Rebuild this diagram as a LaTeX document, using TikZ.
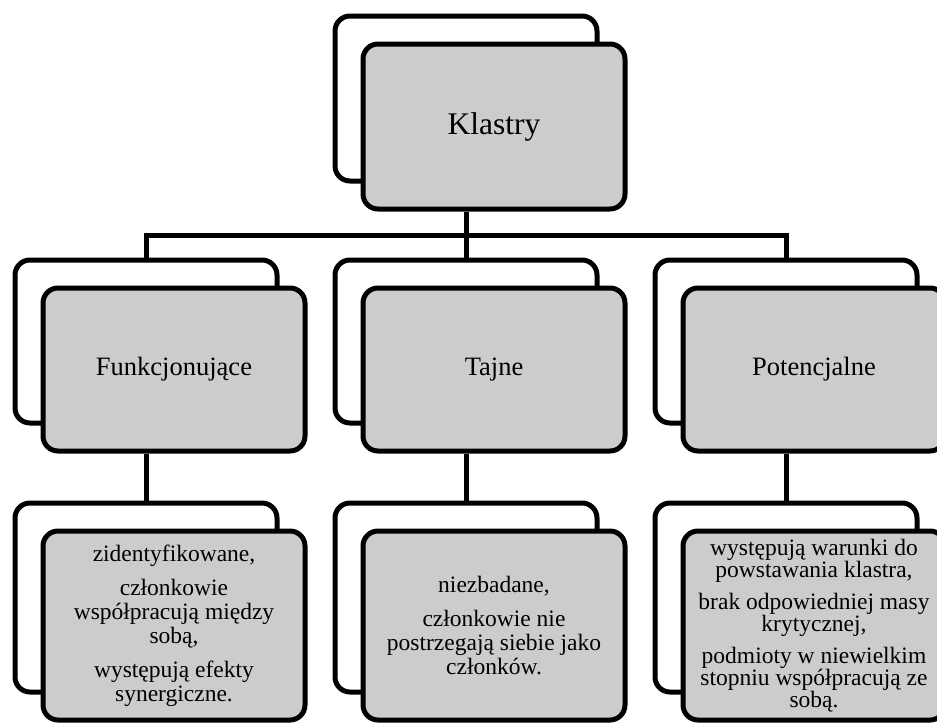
\documentclass[tikz,border=0pt]{standalone}
\usepackage{fontspec}
\setmainfont{Liberation Serif}
\usetikzlibrary{backgrounds}
\definecolor{boxgray}{RGB}{204,204,204}
\begin{document}
\begin{tikzpicture}[x=1pt,y=-1pt,
  card/.style={draw=black, line width=5pt, rounded corners=15pt,
    minimum width=262pt, inner sep=0pt, align=center},
  backcard/.style={card, fill=white},
  frontcard/.style={card, fill=boxgray},
  toptext/.style={font=\fontsize{31.5pt}{36pt}\selectfont},
  midtext/.style={font=\fontsize{26.5pt}{30pt}\selectfont},
  lowtext/.style={font=\fontsize{23.5pt}{24pt}\selectfont},
  link/.style={draw=black, line width=5pt}]
\clip (0,0) rectangle (937,724);

% root
\node[backcard, minimum height=165pt] (kb) at (466,98.5) {};
\node[frontcard, minimum height=165pt, toptext] (k) at (494,126.5) {Klastry};

% second level
\node[backcard, minimum height=163pt] (fb) at (146,341.5) {};
\node[frontcard, minimum height=163pt, midtext] (f) at (174,369.5) {Funkcjonujące};
\node[backcard, minimum height=163pt] (tb) at (466,341.5) {};
\node[frontcard, minimum height=163pt, midtext] (t) at (494,369.5) {Tajne};
\node[backcard, minimum height=163pt] (pb) at (786,341.5) {};
\node[frontcard, minimum height=163pt, midtext] (p) at (814,369.5) {Potencjalne};

% descriptions
\node[backcard, minimum height=189pt] (fdb) at (146,597.5) {};
\node[frontcard, minimum height=189pt, lowtext] (fd) at (174,625.5)
  {zidentyfikowane,\\[10pt]
   członkowie\\ współpracują między\\ sobą,\\[10pt]
   występują efekty\\ synergiczne.};
\node[backcard, minimum height=189pt] (tdb) at (466,597.5) {};
\node[frontcard, minimum height=189pt, lowtext] (td) at (494,625.5)
  {niezbadane,\\[10pt]
   członkowie nie\\ postrzegają siebie jako\\ członków.};
\node[backcard, minimum height=189pt] (pdb) at (786,597.5) {};
\node[frontcard, minimum height=189pt, lowtext,
  font=\fontsize{23.5pt}{22pt}\selectfont] (pd) at (814,625.5)
  {występują warunki do\\ powstawania klastra,\\[10pt]
   brak odpowiedniej masy\\ krytycznej,\\[10pt]
   podmioty w niewielkim\\ stopniu współpracują ze\\ sobą.};

\coordinate (bus) at (466,235);

\begin{pgfonlayer}{background}
  \draw[link] (k.south -| kb) -- (tb.north);
  \draw[link] (fb.north) -- (fb.north |- bus) -- (pb.north |- bus) -- (pb.north);
  \draw[link] (f.south -| fb) -- (fdb.north);
  \draw[link] (t.south -| tb) -- (tdb.north);
  \draw[link] (p.south -| pb) -- (pdb.north);
\end{pgfonlayer}
\end{tikzpicture}
\end{document}
